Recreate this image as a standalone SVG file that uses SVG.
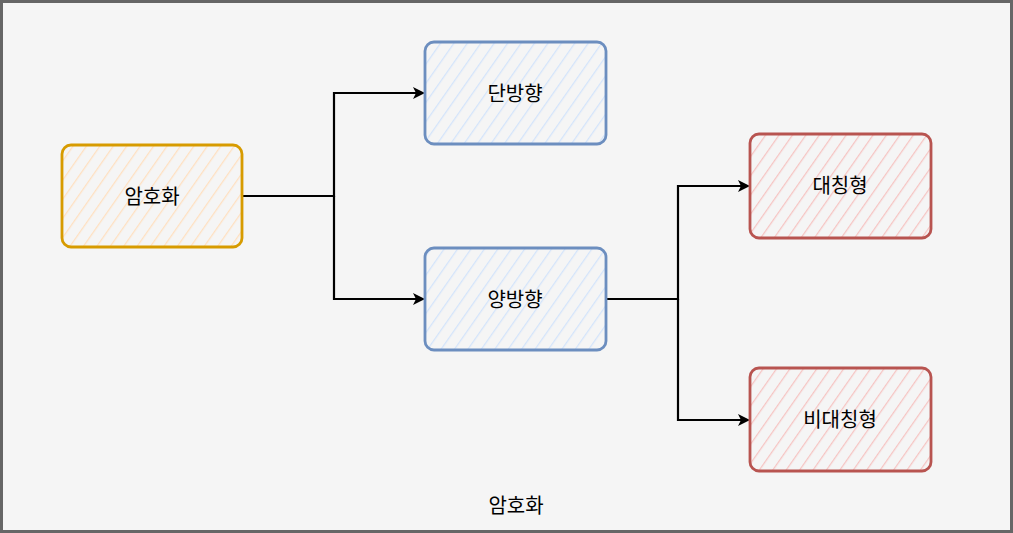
<svg xmlns="http://www.w3.org/2000/svg" width="1013" height="533" viewBox="0 0 1013 533">
<style>
.t{font-family:"Noto Sans CJK KR","Noto Sans",sans-serif;font-size:20px;fill:#000;text-anchor:middle;dominant-baseline:central}
.e{fill:none;stroke:#000;stroke-width:2.2}
.n{stroke-width:2.8}
</style>
<defs>
<pattern id="hO" patternUnits="userSpaceOnUse" width="11" height="11" patternTransform="rotate(35)"><rect width="11" height="11" fill="#f5f5f5"/><line x1="0" y1="0" x2="0" y2="11" stroke="#ffe0c0" stroke-width="2.5"/></pattern>
<pattern id="hB" patternUnits="userSpaceOnUse" width="11" height="11" patternTransform="rotate(35)"><rect width="11" height="11" fill="#f5f5f5"/><line x1="0" y1="0" x2="0" y2="11" stroke="#d3e4fb" stroke-width="2.5"/></pattern>
<pattern id="hR" patternUnits="userSpaceOnUse" width="11" height="11" patternTransform="rotate(35)"><rect width="11" height="11" fill="#f5f5f5"/><line x1="0" y1="0" x2="0" y2="11" stroke="#f6c4c2" stroke-width="2.5"/></pattern>
</defs>
<rect id="frame" x="1.5" y="1.5" width="1010" height="530" fill="#f5f5f5" stroke="#666" stroke-width="3"/>
<g id="connectors">
<polyline class="e" points="242,196 334,196 334,93 418,93"/>
<polyline class="e" points="334,196 334,299 418,299"/>
<polyline class="e" points="606,299 678,299 678,186 743,186"/>
<polyline class="e" points="678,299 678,420 743,420"/>
<path d="M413,87 L425,93 L413,99 L416,93 Z" fill="#000"/>
<path d="M413,293 L425,299 L413,305 L416,299 Z" fill="#000"/>
<path d="M738,180 L750,186 L738,192 L741,186 Z" fill="#000"/>
<path d="M738,414 L750,420 L738,426 L741,420 Z" fill="#000"/>
</g>
<g id="node-encrypt">
<rect class="n" x="62" y="145" width="180" height="102" rx="9" fill="url(#hO)" stroke="#d79b00"/>
<text class="t" x="152" y="195">암호화</text>
</g>
<g id="node-oneway">
<rect class="n" x="425" y="42" width="181" height="102" rx="9" fill="url(#hB)" stroke="#6c8ebf"/>
<text class="t" x="515" y="92">단방향</text>
</g>
<g id="node-twoway">
<rect class="n" x="425" y="248" width="181" height="102" rx="9" fill="url(#hB)" stroke="#6c8ebf"/>
<text class="t" x="515" y="298">양방향</text>
</g>
<g id="node-sym">
<rect class="n" x="750" y="134" width="181" height="104" rx="9" fill="url(#hR)" stroke="#b85450"/>
<text class="t" x="840" y="184">대칭형</text>
</g>
<g id="node-asym">
<rect class="n" x="750" y="368" width="181" height="103" rx="9" fill="url(#hR)" stroke="#b85450"/>
<text class="t" x="840" y="418">비대칭형</text>
</g>
<text class="t" x="516" y="504">암호화</text>
</svg>
